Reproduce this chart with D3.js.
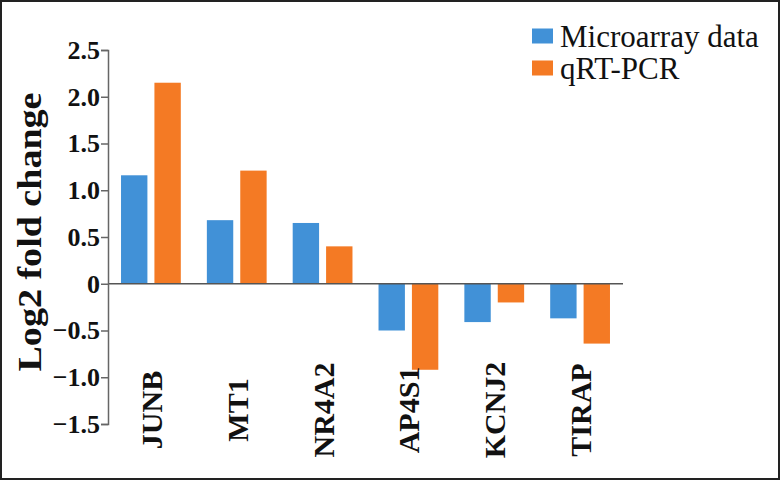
<!DOCTYPE html>
<html>
<head>
<meta charset="utf-8">
<script src="https://cdn.jsdelivr.net/npm/d3@7"></script>
<style>
  body { margin: 0; background: #fff; }
  svg { display: block; }
  text { font-family: "Liberation Serif", "Times New Roman", serif; }
</style>
</head>
<body>
<svg id="chart" width="780" height="480"></svg>
<script>
const categories = ["JUNB", "MT1", "NR4A2", "AP4S1", "KCNJ2", "TIRAP"];
const seriesNames = ["Microarray data", "qRT-PCR"];
const microarray = [1.16, 0.68, 0.65, -0.50, -0.41, -0.37];
const qrtpcr = [2.15, 1.21, 0.40, -0.92, -0.20, -0.64];
const tickValues = [2.5, 2.0, 1.5, 1.0, 0.5, 0, -0.5, -1.0, -1.5];
const tickLabels = ["2.5", "2.0", "1.5", "1.0", "0.5", "0", "\u22120.5", "\u22121.0", "\u22121.5"];
const colors = ["#4191d7", "#f47a24"];

const svg = d3.select("#chart");
const W = 780, H = 480;

// frame
svg.append("rect").attr("x", 1).attr("y", 1).attr("width", W - 2).attr("height", H - 2)
  .attr("fill", "#fff").attr("stroke", "#222").attr("stroke-width", 2);

const x = d3.scaleBand().domain(categories).range([108, 623]).paddingInner(0).paddingOuter(0);
const xs = d3.scaleBand().domain(seriesNames).range([0, x.bandwidth()]).paddingInner(0.21).paddingOuter(0.39);
const y = d3.scaleLinear().domain([-1.5, 2.5]).range([424, 50]);

const data = categories.map((c, i) => ({ cat: c, vals: [microarray[i], qrtpcr[i]] }));

const g = svg.append("g");
const groups = g.selectAll("g.grp").data(data).enter().append("g")
  .attr("transform", d => `translate(${x(d.cat)},0)`);
groups.selectAll("rect").data(d => d.vals.map((v, k) => ({ v, k })))
  .enter().append("rect")
  .attr("x", d => xs(seriesNames[d.k]))
  .attr("width", xs.bandwidth())
  .attr("y", d => y(Math.max(0, d.v)))
  .attr("height", d => Math.abs(y(d.v) - y(0)))
  .attr("fill", d => colors[d.k]);

// zero line
svg.append("line").attr("x1", 108).attr("x2", 623).attr("y1", y(0)).attr("y2", y(0))
  .attr("stroke", "#555").attr("stroke-width", 1.5);

// y axis
const yAxis = d3.axisLeft(y).tickValues(tickValues)
  .tickFormat((d, i) => tickLabels[i]).tickSize(7).tickSizeOuter(7).tickPadding(1);
const ya = svg.append("g").attr("transform", "translate(108,0)").call(yAxis);
ya.select(".domain").attr("stroke", "#666").attr("stroke-width", 1.5);
ya.selectAll(".tick line").attr("stroke", "#666").attr("stroke-width", 1.5);
ya.selectAll(".tick text").attr("font-family", "Liberation Serif").attr("font-weight", "bold")
  .attr("font-size", 26).attr("fill", "#111");

// y title
svg.append("text")
  .attr("transform", "translate(41,232) rotate(-90)")
  .attr("text-anchor", "middle")
  .attr("font-weight", "bold").attr("font-size", 33)
  .attr("textLength", 279).attr("lengthAdjust", "spacingAndGlyphs")
  .attr("fill", "#111")
  .text("Log2 fold change");

// category labels
svg.selectAll("text.cat").data(categories).enter().append("text")
  .attr("class", "cat")
  .attr("transform", d => `translate(${x(d) + x.bandwidth() / 2 + 11},410) rotate(-90)`)
  .attr("text-anchor", "middle")
  .attr("font-weight", "bold").attr("font-size", 30)
  .attr("fill", "#111")
  .text(d => d);

// legend
const leg = svg.append("g");
seriesNames.forEach((s, i) => {
  const cy = 36 + i * 32;
  leg.append("rect").attr("x", 532).attr("y", cy - 7.5).attr("width", 21).attr("height", 15)
    .attr("fill", colors[i]);
  leg.append("text").attr("x", 560).attr("y", cy + 11)
    .attr("font-size", 31).attr("fill", "#111").text(s);
});
</script>
</body>
</html>
